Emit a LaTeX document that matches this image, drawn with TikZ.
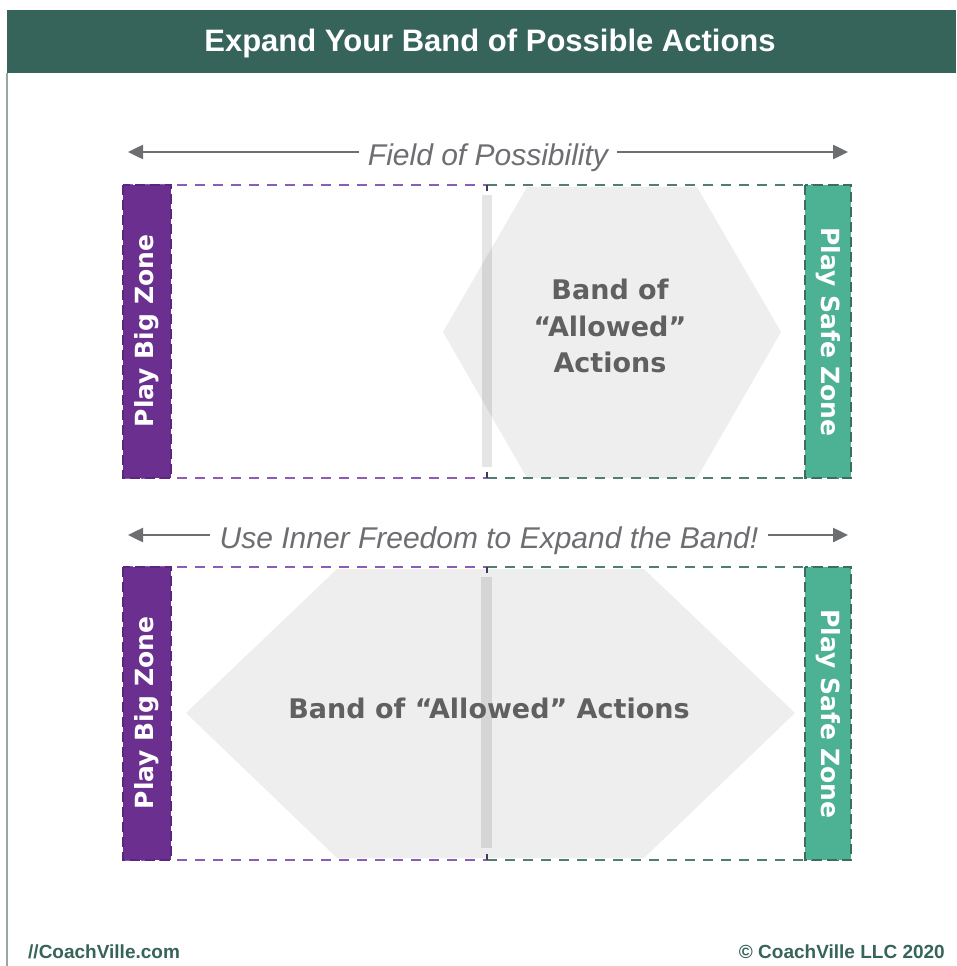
\documentclass[tikz,border=0pt]{standalone}
\usepackage{fontspec}
\setmainfont{Liberation Sans}[Ligatures=TeX]
\newfontfamily\heavyfont{DejaVu Sans}[Ligatures=TeX]
\usetikzlibrary{arrows.meta}
\usetikzlibrary{positioning}

\definecolor{hdrgreen}{RGB}{54,100,90}
\definecolor{bordergray}{RGB}{150,168,163}
\definecolor{bigpurple}{RGB}{106,47,143}
\definecolor{bigedge}{RGB}{92,38,128}
\definecolor{safegreen}{RGB}{77,177,148}
\definecolor{safeedge}{RGB}{60,110,95}
\definecolor{dashpurple}{RGB}{142,92,181}
\definecolor{dashgreen}{RGB}{78,127,112}
\definecolor{arrowgray}{RGB}{109,110,113}
\definecolor{bandgray}{RGB}{96,96,96}
\definecolor{tickdark}{RGB}{60,60,90}

\tikzset{
  zonetext/.style={text=white, font=\heavyfont\bfseries\fontsize{25}{30}\selectfont},
  bandtext/.style={text=bandgray, font=\heavyfont\bfseries\fontsize{27}{36.5}\selectfont, align=center},
  fieldtext/.style={text=arrowgray, font=\itshape\fontsize{30}{36}\selectfont, inner sep=9pt},
  fieldarrow/.style={draw=arrowgray, line width=2.5pt, -{Triangle[length=15pt,width=14pt]}},
  hexfill/.style={fill=black, fill opacity=0.065},
  midbar/.style={fill=black, fill opacity=0.1},
  purpledash/.style={draw=dashpurple, line width=2pt, dash pattern=on 10pt off 8pt},
  greendash/.style={draw=dashgreen, line width=2pt, dash pattern=on 10pt off 8pt},
  zoneedge/.style={line width=2pt, dash pattern=on 10pt off 5pt},
}

\begin{document}
\begin{tikzpicture}[x=1pt, y=-1pt]
  \useasboundingbox (0,0) rectangle (956,966);
  \fill[white] (0,0) rectangle (956,966);

  % Header
  \fill[hdrgreen] (7,10) rectangle (956,73);
  \node[anchor=base, text=white, font=\bfseries\fontsize{31}{36}\selectfont] (title) at (490,52) {Expand Your Band of Possible Actions};
  \draw[bordergray, line width=1.2pt] (7,73) -- (7,966);

  % Top panel: field of possibility
  \node[fieldtext, anchor=base] (fieldlbl) at (488,165) {Field of Possibility};
  \coordinate (fieldL) at (128,152);
  \coordinate (fieldR) at (848,152);
  \draw[fieldarrow] (fieldlbl.west |- fieldL) -- (fieldL);
  \draw[fieldarrow] (fieldlbl.east |- fieldR) -- (fieldR);

  % Band (hexagon) and middle bar
  \fill[midbar] (482,195) rectangle (492,467);
  \fill[hexfill] (443,332) -- (527,187) -- (697,187) -- (781,332) -- (697,478) -- (527,478) -- cycle;
  \node[bandtext] (bandA) at (610,326) {Band of\\“Allowed”\\Actions};

  % Dashed frame
  \draw[purpledash] (123,185) -- (487,185);
  \draw[greendash] (487,185) -- (851,185);
  \draw[purpledash] (123,478) -- (487,478);
  \draw[greendash] (487,478) -- (851,478);
  \draw[tickdark, line width=2pt] (487,185) -- (487,191);
  \draw[tickdark, line width=2pt] (487,478) -- (487,472);

  % Zones
  \fill[bigpurple] (123,185) rectangle (171,478);
  \draw[bigedge, zoneedge] (123,185) rectangle (171,478);
  \node[zonetext, rotate=90] (bigA) at (147,331) {Play Big Zone};
  \fill[safegreen] (805,185) rectangle (851,478);
  \draw[safeedge, zoneedge] (805,185) rectangle (851,478);
  \node[zonetext, rotate=-90] (safeA) at (828,332) {Play Safe Zone};

  % Bottom panel: inner freedom
  \node[fieldtext, anchor=base] (freelbl) at (489,548) {Use Inner Freedom to Expand the Band!};
  \coordinate (freeL) at (128,535);
  \coordinate (freeR) at (848,535);
  \draw[fieldarrow] (freelbl.west |- freeL) -- (freeL);
  \draw[fieldarrow] (freelbl.east |- freeR) -- (freeR);

  % Wide band
  \fill[hexfill] (186,713) -- (337,569) -- (644,569) -- (795,713) -- (644,858) -- (337,858) -- cycle;
  \fill[midbar] (481,577) rectangle (492,848);
  \node[bandtext, anchor=base] (bandB) at (489,718) {Band of “Allowed” Actions};

  % Dashed frame
  \draw[purpledash] (123,567) -- (487,567);
  \draw[greendash] (487,567) -- (851,567);
  \draw[purpledash] (123,860) -- (487,860);
  \draw[greendash] (487,860) -- (851,860);
  \draw[tickdark, line width=2pt] (487,567) -- (487,573);
  \draw[tickdark, line width=2pt] (487,860) -- (487,854);

  % Zones
  \fill[bigpurple] (123,567) rectangle (171,860);
  \draw[bigedge, zoneedge] (123,567) rectangle (171,860);
  \node[zonetext, rotate=90] (bigB) at (147,713) {Play Big Zone};
  \fill[safegreen] (805,567) rectangle (851,860);
  \draw[safeedge, zoneedge] (805,567) rectangle (851,860);
  \node[zonetext, rotate=-90] (safeB) at (828,714) {Play Safe Zone};

  % Footer
  \node[anchor=base west, text=hdrgreen, font=\bfseries\fontsize{19}{22}\selectfont, inner sep=0pt] (site) at (28,958) {//CoachVille.com};
  \node[anchor=base east, text=hdrgreen, font=\bfseries\fontsize{19}{22}\selectfont, inner sep=0pt] (copy) at (945,958) {© CoachVille LLC 2020};
\end{tikzpicture}
\end{document}
